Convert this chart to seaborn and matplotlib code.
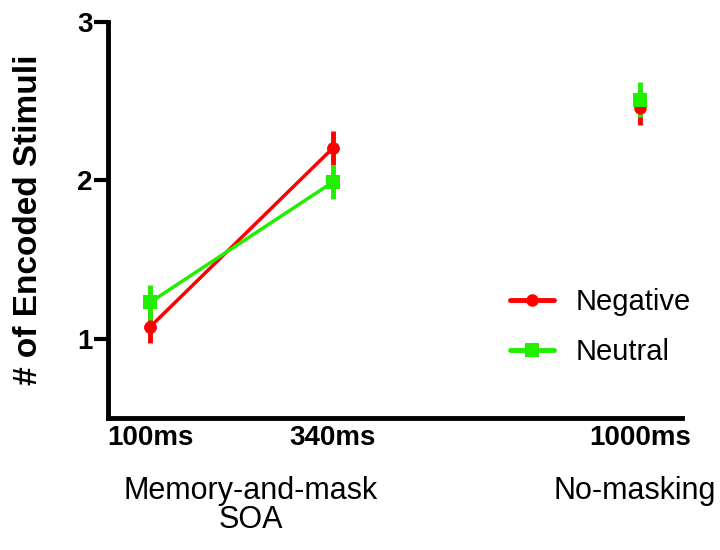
import numpy as np
import pandas as pd
import matplotlib.pyplot as plt
import seaborn as sns
from matplotlib.lines import Line2D
from matplotlib.transforms import blended_transform_factory

# values
soa_labels = ['100ms', '340ms', '1000ms']
groups = ['Memory-and-mask', 'Memory-and-mask', 'No-masking']
negative_mean = [1.075, 2.205, 2.46]
negative_sem = [0.10, 0.105, 0.11]
neutral_mean = [1.23, 1.99, 2.51]
neutral_sem = [0.11, 0.11, 0.11]

# layout (not data)
x_pos = [0, 1, 2.68]

sns.set_style('ticks', {'axes.edgecolor': 'black', 'text.color': 'black',
                        'xtick.color': 'black', 'ytick.color': 'black',
                        'axes.labelcolor': 'black'})
plt.rcParams['font.family'] = ['Liberation Sans', 'DejaVu Sans']

fig = plt.figure(figsize=(7.2, 5.5), dpi=100)
ax = fig.add_axes([0.15, 0.24, 0.797, 0.72])

styles = {
    'Negative': dict(color='#FF0000', marker='o', ms=9, mean=negative_mean, sem=negative_sem),
    'Neutral': dict(color='#22EE00', marker='s', ms=10, mean=neutral_mean, sem=neutral_sem),
}

for name, st in styles.items():
    df = pd.DataFrame({'x': x_pos, 'mean': st['mean'], 'sem': st['sem'],
                       'group': groups, 'soa': soa_labels})
    masked = df[df['group'] == 'Memory-and-mask']
    sns.lineplot(data=masked, x='x', y='mean', color=st['color'], lw=2.5,
                 marker=st['marker'], markersize=st['ms'], markeredgewidth=0, ax=ax)
    ax.errorbar(df['x'], df['mean'], yerr=df['sem'], fmt=st['marker'],
                color=st['color'], ms=st['ms'], mew=0, elinewidth=3.5, capsize=0)

ax.set_xlim(-0.23, 2.907)
ax.set_ylim(0.5, 3)
ax.set_yticks([1, 2, 3])
ax.set_yticklabels(['1', '2', '3'], fontsize=20, fontweight='bold')
ax.set_xticks(x_pos)
ax.set_xticklabels(soa_labels, fontsize=20, fontweight='bold')
ax.tick_params(axis='x', length=0, pad=5)
ax.tick_params(axis='y', length=10, width=3, pad=1)
ax.set_xlabel('')
ax.set_ylabel('# of Encoded Stimuli', fontsize=24, fontweight='bold')
ax.yaxis.label.set_va('center')
ax.yaxis.set_label_coords(-0.138, 0.5)

sns.despine(ax=ax)
for side in ['left', 'bottom']:
    ax.spines[side].set_linewidth(3.5)

trans = blended_transform_factory(ax.transData, fig.transFigure)
ax.text(0.55, 0.135, 'Memory-and-mask\nSOA', transform=trans, ha='center',
        va='top', fontsize=22, linespacing=0.95)
ax.text(2.65, 0.135, 'No-masking', transform=trans, ha='center', va='top',
        fontsize=22)

handles = [Line2D([], [], color=st['color'], marker=st['marker'], lw=3.5,
                  ms=st['ms'], mew=0)
           for st in styles.values()]
fig.legend(handles, list(styles.keys()), loc='center left',
           bbox_to_anchor=(0.708, 0.405), frameon=False, fontsize=21,
           handlelength=1.5, handletextpad=0.75, labelspacing=0.75,
           borderpad=0, borderaxespad=0)

fig.savefig('out.png', dpi=100)
